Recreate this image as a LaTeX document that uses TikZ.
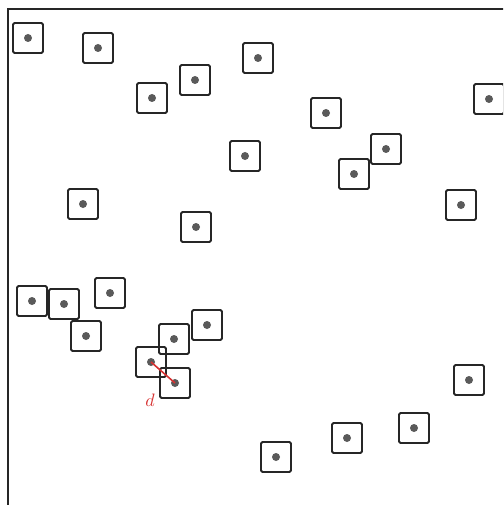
\documentclass[tikz,border=0pt]{standalone}
\usepackage{tikz}
\definecolor{dotgray}{RGB}{90,90,90}
\definecolor{dred}{RGB}{215,50,50}
\begin{document}
\begin{tikzpicture}[x=1pt,y=-1pt,
  cell/.style={draw=black!85,line width=1.8pt,rounded corners=1.5pt,minimum size=30pt,inner sep=0pt,
    path picture={\fill[dotgray] (path picture bounding box.center) circle (4pt);}},
  frame/.style={draw=black!85,line width=1.8pt}]
\useasboundingbox (0,0) rectangle (503,505);
\clip (0,0) rectangle (503,505);
\coordinate (tl) at (8,9);
\coordinate (tr) at (520,9);
\coordinate (bl) at (8,520);
\draw[frame] (bl) -- (tl) -- (tr);
\foreach \n/\x/\y in {
 a/28/38, b/98/48, c/152/98, e/195/80, f/258/58, g/326/113, h/489/99,
 i/245/156, j/386/149, k/354/174, l/461/205, m/83/204, n/196/227,
 o/32/301, p/64/304, q/110/293, r/86/336, s/207/325, t/174/339,
 u/151/362, v/175/383, w/469/380, x/276/457, y/347/438, z/414/428}
 \node[cell] (\n) at (\x,\y) {};
\draw[dred,line width=1.6pt] (u.center) -- (v.center);
\node[text=dred,scale=1.8,inner sep=0pt] (dl) at (150,400) {$d$};
\end{tikzpicture}
\end{document}
